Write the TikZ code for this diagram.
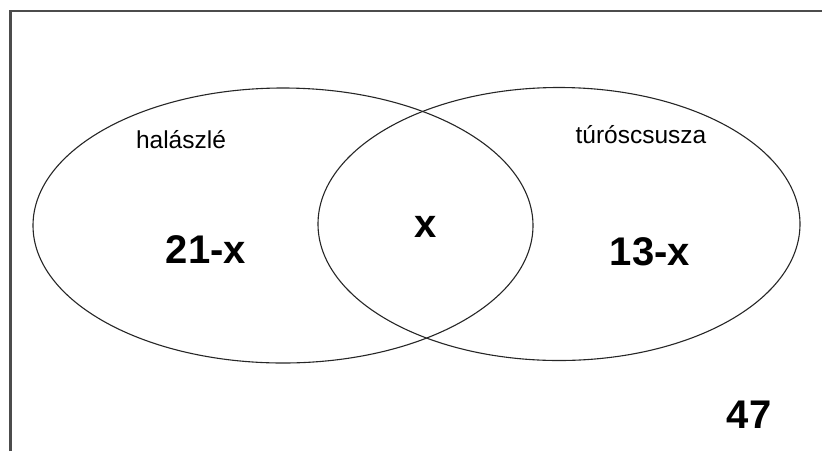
\documentclass[tikz,border=0pt]{standalone}
\usepackage{fontspec}
\setmainfont{Liberation Sans}

\begin{document}
\begin{tikzpicture}[
			x = 1pt, y = -1pt,
			every node/.style = {inner sep = 0pt, anchor = base},
			set/.style = {line width = 1.1pt, black!85},
			setlabel/.style = {font = \fontsize{24.5}{28}\selectfont},
			setnum/.style = {font = \fontsize{40}{48}\selectfont\bfseries}]

			\useasboundingbox (0,0) rectangle (822,451);
			\draw[line width = 2.2pt, black!70] (10.5,451) -- (10.5,11) -- (822,11);

			\draw[set] (283,225.5) ellipse [x radius = 250, y radius = 137.5];
			\draw[set] (559,224) ellipse [x radius = 241, y radius = 136.5];

			\node[setlabel] (halaszle) at (181,148) {halászlé};
			\node[setlabel] (turos) at (641,143) {túróscsusza};

			\node[setnum] (left) at (206,263) {21-x};
			\node[setnum] (both) at (426,237) {x};
			\node[setnum] (right) at (650,265) {13-x};
			\node[setnum] (none) at (749,428) {47};

		\end{tikzpicture}
\end{document}
